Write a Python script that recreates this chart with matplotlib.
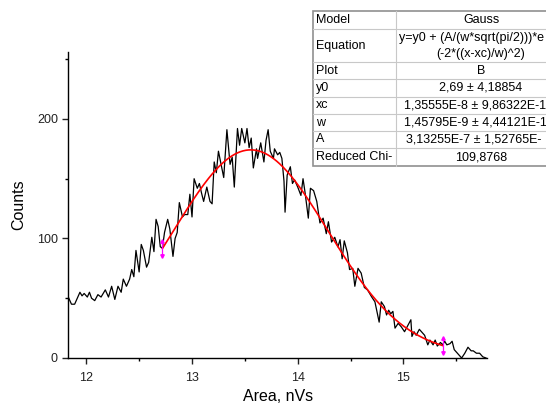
import matplotlib.pyplot as plt
import numpy as np

plt.rcParams['font.family'] = ['Liberation Sans', 'DejaVu Sans']

# histogram (Area in nVs, Counts)
area = [11.83, 11.86, 11.89, 11.94, 11.96, 11.98, 12.01, 12.03, 12.05, 12.08,
        12.11, 12.14, 12.18, 12.21, 12.24, 12.27, 12.30, 12.33, 12.35, 12.38,
        12.41, 12.43, 12.45, 12.47, 12.50, 12.52, 12.54, 12.57, 12.59, 12.62,
        12.64, 12.66, 12.68, 12.70, 12.72, 12.74, 12.77, 12.79, 12.82, 12.84,
        12.86, 12.88, 12.91, 12.93, 12.96, 12.98, 13.00, 13.02, 13.05, 13.07,
        13.09, 13.11, 13.14, 13.17, 13.19, 13.21, 13.23, 13.25, 13.28, 13.30,
        13.33, 13.36, 13.38, 13.40, 13.43, 13.45, 13.47, 13.50, 13.52, 13.54,
        13.56, 13.58, 13.61, 13.62, 13.65, 13.68, 13.70, 13.72, 13.74, 13.77,
        13.78, 13.81, 13.83, 13.85, 13.87, 13.88, 13.90, 13.93, 13.95, 13.97,
        14.00, 14.03, 14.05, 14.07, 14.10, 14.12, 14.15, 14.18, 14.21, 14.24,
        14.27, 14.29, 14.32, 14.35, 14.38, 14.40, 14.42, 14.44, 14.47, 14.49,
        14.52, 14.54, 14.57, 14.60, 14.63, 14.66, 14.70, 14.73, 14.77, 14.79,
        14.82, 14.84, 14.86, 14.88, 14.90, 14.92, 14.95, 14.98, 15.01, 15.04,
        15.07, 15.08, 15.10, 15.12, 15.15, 15.17, 15.20, 15.23, 15.25, 15.28,
        15.30, 15.32, 15.35, 15.37, 15.39, 15.41, 15.44, 15.46, 15.48, 15.51,
        15.55, 15.58, 15.61, 15.64, 15.66, 15.69, 15.72, 15.75, 15.78]
counts = [51, 45, 45, 55, 52, 54, 51, 55, 50, 48,
          53, 51, 57, 51, 60, 49, 60, 55, 66, 60,
          66, 74, 68, 90, 72, 95, 90, 76, 80, 101,
          89, 116, 110, 93, 92, 105, 116, 108, 85, 100,
          105, 130, 118, 120, 120, 137, 118, 150, 142, 146,
          138, 131, 143, 131, 129, 164, 155, 173, 160, 151,
          191, 162, 168, 143, 192, 178, 192, 180, 192, 176,
          184, 159, 175, 167, 180, 164, 182, 191, 173, 167,
          175, 170, 172, 167, 148, 122, 153, 160, 146, 149,
          143, 136, 150, 138, 117, 142, 140, 131, 113, 117,
          104, 114, 97, 101, 93, 99, 83, 98, 88, 74,
          75, 60, 75, 71, 59, 57, 51, 47, 30, 47,
          43, 36, 40, 37, 39, 25, 29, 26, 22, 27,
          32, 18, 22, 19, 24, 22, 19, 11, 15, 11,
          15, 10, 13, 11, 14, 11, 12, 14, 7, 4,
          0, 4, 9, 6, 6, 4, 4, 1, 0]

# Gauss fit parameters from the table (x in nVs)
y0, xc, w, A = 2.69, 13.5555, 1.45795, 313.255
fit_range = [12.72, 15.37]

# table text as far as it is visible in the picture (cut at the right edge)
row_names = ["Model", "Equation", "Plot", "y0", "xc", "w", "A", "Reduced Chi-"]
row_values = [["Gauss"],
              ["y=y0 + (A/(w*sqrt(pi/2)))*e", "(-2*((x-xc)/w)^2)"],
              ["B"],
              ["2,69 \u00b1 4,18854"],
              ["1,35555E-8 \u00b1 9,86322E-1"],
              ["1,45795E-9 \u00b1 4,44121E-1"],
              ["3,13255E-7 \u00b1 1,52765E-"],
              ["109,8768"]]

W, H = 546, 407
fig = plt.figure(figsize=(W / 100, H / 100), dpi=100)
ax = fig.add_axes([68.3 / W, 1 - 358 / H, (487 - 68.3) / W, (358 - 52) / H])

ax.plot(area, counts, color='black', lw=0.9)


def gauss(x):
    return y0 + (A / (w * np.sqrt(np.pi / 2))) * np.exp(-2 * ((x - xc) / w) ** 2)


xf = np.linspace(fit_range[0], fit_range[1], 300)
ax.plot(xf, gauss(xf), color='red', lw=1.2)

# data range markers
for xm in fit_range:
    ym = gauss(xm)
    ax.plot([xm, xm], [ym - 7, ym + 7], color='magenta', lw=0.9)
    ax.plot([xm], [ym + 6], marker='^', ms=2.5, color='magenta')
    ax.plot([xm], [ym - 6], marker='v', ms=2.5, color='magenta')

ax.set_xlim(11.83, 15.79)
ax.set_ylim(0, 256)
ax.set_xticks([12, 13, 14, 15])
ax.set_xticks([12.5, 13.5, 14.5, 15.5], minor=True)
ax.set_yticks([0, 100, 200])
ax.set_yticks([50, 150, 250], minor=True)
ax.tick_params(which='major', direction='out', length=4, width=1, labelsize=9, colors='#222222')
ax.tick_params(which='minor', direction='out', length=2.5, width=1)
ax.tick_params(axis='x', pad=6)
ax.spines['top'].set_visible(False)
ax.spines['right'].set_visible(False)
for s in ['left', 'bottom']:
    ax.spines[s].set_linewidth(1.0)
ax.set_xlabel('Area, nVs', fontsize=11.5)
ax.set_ylabel('Counts', fontsize=11.5, labelpad=8)


# results table drawn in figure pixels
def fx(px):
    return px / W


def fy(py):
    return 1 - py / H


bounds = [11, 29, 62, 79, 97, 114, 131, 148, 166]
left, split, right = 313, 396, 570
fig.patches.append(plt.Rectangle((fx(left), fy(bounds[-1])), fx(right - left), (bounds[-1] - bounds[0]) / H,
                                 transform=fig.transFigure, facecolor='white', edgecolor='#909090', lw=1.2))
for b in bounds[1:-1]:
    fig.add_artist(plt.Line2D([fx(left), fx(right)], [fy(b), fy(b)], transform=fig.transFigure,
                              color='#c8c8c8', lw=0.8))
fig.add_artist(plt.Line2D([fx(split), fx(split)], [fy(bounds[0]), fy(bounds[-1])], transform=fig.transFigure,
                          color='#c8c8c8', lw=0.8))

# left edge of the cut-off value texts
cut_left = {1: 399, 4: 404, 5: 404, 6: 406}

for i, (name, vals) in enumerate(zip(row_names, row_values)):
    mid = (bounds[i] + bounds[i + 1]) / 2
    fig.text(fx(left + 3), fy(mid), name, fontsize=9, va='center', ha='left')
    if len(vals) == 1:
        if i in cut_left:
            fig.text(fx(cut_left[i]), fy(mid), vals[0], fontsize=9, va='center', ha='left')
        else:
            fig.text(fx(481), fy(mid), vals[0], fontsize=9, va='center', ha='center')
    else:
        fig.text(fx(cut_left[i]), fy(mid - 8), vals[0], fontsize=9, va='center', ha='left')
        fig.text(fx(481), fy(mid + 8), vals[1], fontsize=9, va='center', ha='center')

fig.savefig('out.png', dpi=100)
